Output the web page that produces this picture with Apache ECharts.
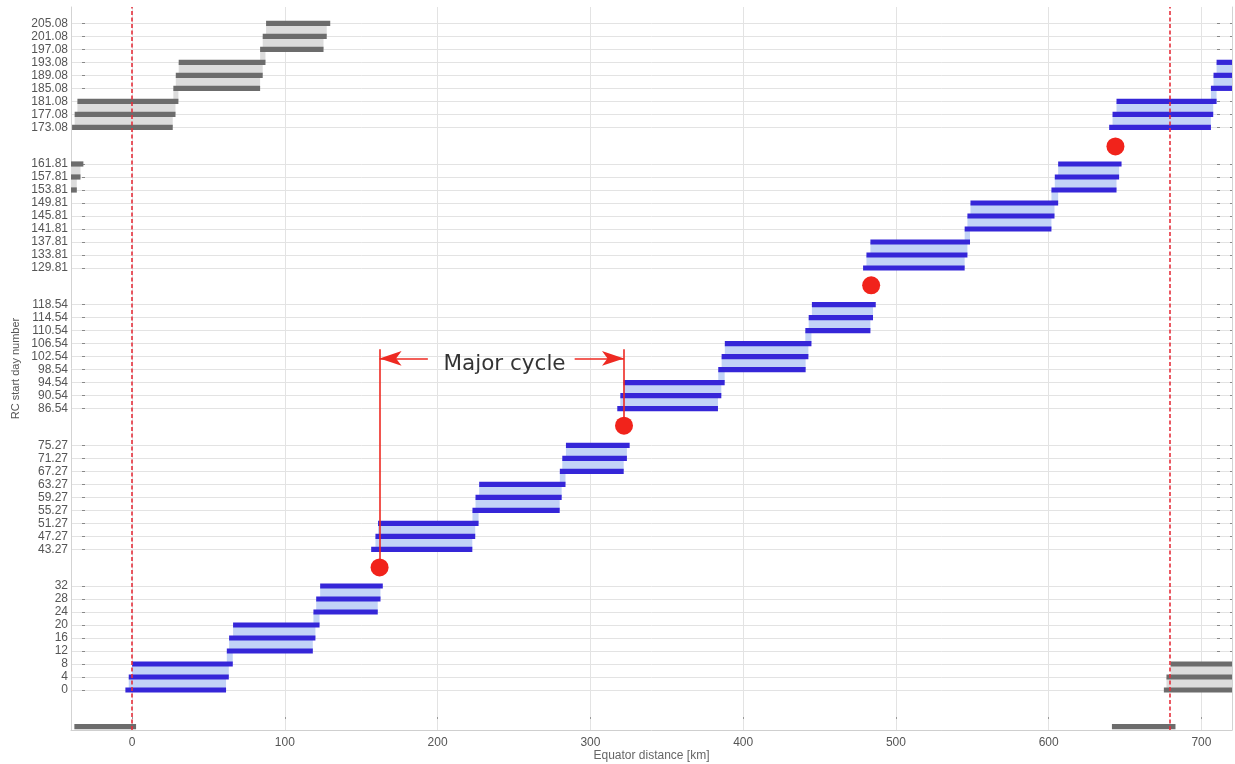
<!DOCTYPE html>
<html>
<head>
<meta charset="utf-8">
<script src="https://cdn.jsdelivr.net/npm/echarts@6/dist/echarts.min.js"></script>
<style>
html,body{margin:0;padding:0;background:#fff;}
#chart{width:1235px;height:764px;}
</style>
</head>
<body>
<div id="chart"></div>
<script>
// ---- Data ----
const dayLabels = ['0','4','8','12','16','20','24','28','32',
  '43.27','47.27','51.27','55.27','59.27','63.27','67.27','71.27','75.27',
  '86.54','90.54','94.54','98.54','102.54','106.54','110.54','114.54','118.54',
  '129.81','133.81','137.81','141.81','145.81','149.81','153.81','157.81','161.81',
  '173.08','177.08','181.08','185.08','189.08','193.08','197.08','201.08','205.08'];
const dayNumbers = dayLabels.map(Number);

// blue bars (one per day row, rows 0 .. 193.08)
const blueDays  = [0,4,8,12,16,20,24,28,32,
  43.27,47.27,51.27,55.27,59.27,63.27,67.27,71.27,75.27,
  86.54,90.54,94.54,98.54,102.54,106.54,110.54,114.54,118.54,
  129.81,133.81,137.81,141.81,145.81,149.81,153.81,157.81,161.81,
  173.08,177.08,181.08,185.08,189.08,193.08];
const blueStart = [-4.4,-2.2,0, 62,63.5,66.1, 118.7,120.5,123.1,
  156.5,159.3,161, 222.8,224.8,227.2, 280,281.6,284,
  317.6,319.6,321.7, 383.7,385.9,388, 440.7,442.9,445,
  478.5,480.7,483.3, 545,546.8,548.8, 601.8,604,606.2,
  639.6,641.8,644.4, 706.2,707.9,709.9];
const blueEnd   = [61.5,63.3,65.9, 118.3,120,122.7, 160.8,162.6,164.1,
  222.7,224.6,226.8, 279.9,281.2,283.7, 321.8,323.9,325.7,
  383.5,385.7,387.9, 440.9,442.7,444.7, 483.3,485,486.8,
  545,546.8,548.5, 601.8,603.8,606.2, 644.4,646.1,647.7,
  706.2,707.7,709.9, 764,766,768];

// gray (wrapped) bars
const grayDays  = [-11.27, -11.27, 0,4,8, 153.81,157.81,161.81,
  173.08,177.08,181.08,185.08,189.08,193.08,197.08,201.08,205.08];
const grayStart = [-37.8, 641.4, 675.4,677.1,679.8, -78.5,-76.5,-74,
  -39.3,-37.6,-35.8, 27,28.6,30.5, 83.8,85.5,87.7];
const grayEnd   = [2.6, 683, 742,743.5,746, -36.2,-33.8,-31.9,
  26.6,28.4,30.3, 83.8,85.5,87.3, 125.3,127.4,129.7];

// major-cycle markers
const dotX = [162, 322, 483.8, 643.7];
const dotY = [37.7, 81.3, 124.5, 167.2];

// reference lines (equator distance, km)
const refLinesX = [0, 679];
const xTicks = [0,100,200,300,400,500,600,700];

// annotation
const cycleLeftX = 162, cycleRightX = 322, cycleArrowY = 102, cycleTopY = 104.8;
const cycleArrowTailLeft = 193.6, cycleArrowTailRight = 289.7;
const cycleText = 'Major cycle', cycleTextX = 243.8, cycleTextY = 100.1;

// ---- Derived series data ----
function barData(days, s, e){ return days.map((d,i)=>[s[i], e[i], d]); }
function fillData(days, s, e){
  const out = [];
  for (let i = 0; i < days.length - 1; i++){
    if (Math.abs(days[i+1] - days[i] - 4) < 0.01){
      const l = Math.max(s[i], s[i+1]), r = Math.min(e[i], e[i+1]);
      if (r > l) out.push([l, r, days[i], days[i+1]]);
    }
  }
  return out;
}
const blueBars = barData(blueDays, blueStart, blueEnd);
const grayBars = barData(grayDays, grayStart, grayEnd);
const blueFills = fillData(blueDays, blueStart, blueEnd);
const grayFills = fillData(grayDays, grayStart, grayEnd);

function barRenderer(color){
  return function(params, api){
    const p0 = api.coord([api.value(0), api.value(2)]);
    const p1 = api.coord([api.value(1), api.value(2)]);
    const shape = echarts.graphic.clipRectByRect(
      {x:p0[0], y:p0[1]-2.6, width:p1[0]-p0[0], height:5.2},
      {x:params.coordSys.x, y:params.coordSys.y, width:params.coordSys.width, height:params.coordSys.height});
    if (!shape) return;
    return {type:'rect', shape:shape, style:{fill:color}};
  };
}
function fillRenderer(color){
  return function(params, api){
    const p0 = api.coord([api.value(0), api.value(3)]);
    const p1 = api.coord([api.value(1), api.value(2)]);
    const shape = echarts.graphic.clipRectByRect(
      {x:p0[0], y:p0[1], width:p1[0]-p0[0], height:p1[1]-p0[1]},
      {x:params.coordSys.x, y:params.coordSys.y, width:params.coordSys.width, height:params.coordSys.height});
    if (!shape) return;
    return {type:'rect', shape:shape, style:{fill:color}};
  };
}

const chart = echarts.init(document.getElementById('chart'), null, {renderer:'canvas'});
const labelFont = 'Liberation Sans, Arial, Helvetica, sans-serif';
const gridColor = '#e3e3e3';

const option = {
  animation:false,
  backgroundColor:'#fff',
  grid:{left:71, right:3, top:7, bottom:34, containLabel:false, outerBoundsMode:'none'},
  xAxis:{
    type:'value', min:-40, max:720,
    name:'Equator distance [km]', nameLocation:'middle', nameGap:20, nameMoveOverlap:false,
    nameTextStyle:{color:'#666', fontSize:12, fontFamily:labelFont},
    axisLine:{show:true, onZero:false, lineStyle:{color:'#cfcfcf', width:1}},
    axisTick:{show:true, inside:true, length:14, customValues:xTicks,
      lineStyle:{color:'#999', width:1, type:[0,11,2,60]}},
    axisLabel:{customValues:xTicks, color:'#555', fontSize:12, fontFamily:labelFont, margin:7},
    splitLine:{show:true, lineStyle:{color:gridColor, width:1}}
  },
  yAxis:[{
    type:'value', min:-12.3, max:210.1,
    name:'RC start day number', nameLocation:'middle', nameGap:50, nameRotate:90, nameMoveOverlap:false,
    nameTextStyle:{color:'#555', fontSize:11, fontFamily:labelFont},
    axisLine:{show:true, onZero:false, lineStyle:{color:'#d3d3d3', width:1}},
    axisTick:{show:true, inside:true, length:14, customValues:dayNumbers,
      lineStyle:{color:'#888', width:1, type:[0,11,3,60]}},
    axisLabel:{customValues:dayNumbers, color:'#555', fontSize:12, fontFamily:labelFont, margin:3,
      formatter:function(v){ const i = dayNumbers.indexOf(v); return i>=0 ? dayLabels[i] : ''; }},
    splitLine:{show:true, lineStyle:{color:gridColor, width:1}}
  },{
    type:'value', min:-12.3, max:210.1, position:'right',
    axisLine:{show:true, onZero:false, lineStyle:{color:'#d3d3d3', width:1}},
    axisTick:{show:true, inside:true, length:15, customValues:dayNumbers,
      lineStyle:{color:'#888', width:1, type:[2,10,3,60]}},
    axisLabel:{show:false, customValues:dayNumbers},
    splitLine:{show:false}
  }],
  series:[
    {type:'custom', name:'grayFill', renderItem:fillRenderer('#dcdcdc'), data:grayFills,
      encode:{x:[0,1], y:[2,3]}, z:1, silent:true},
    {type:'custom', name:'blueFill', renderItem:fillRenderer('#c2d3f7'), data:blueFills,
      encode:{x:[0,1], y:[2,3]}, z:1, silent:true},
    {type:'custom', name:'grayBars', renderItem:barRenderer('#6c6c6c'), data:grayBars,
      encode:{x:[0,1], y:2}, z:2, silent:true},
    {type:'custom', name:'blueBars', renderItem:barRenderer('#3526d8'), data:blueBars,
      encode:{x:[0,1], y:2}, z:2, silent:true},
    {type:'scatter', name:'refLines', data:[], z:3, silent:true,
      markLine:{silent:true, symbol:['none','none'], label:{show:false},
        lineStyle:{color:'#e5303c', width:1.6, type:[4,2.5]},
        data:refLinesX.map(x=>({xAxis:x}))}},
    {type:'scatter', name:'cycleDots', data:dotX.map((x,i)=>[x,dotY[i]]),
      symbol:'circle', symbolSize:18, itemStyle:{color:'#f1231b', opacity:1}, z:5, silent:true},
    {type:'scatter', name:'annotation', data:[[cycleTextX, cycleTextY]], symbolSize:0, z:6, silent:true,
      label:{show:true, position:'inside', formatter:cycleText, color:'#000', fontSize:21.5,
        fontFamily:'DejaVu Sans, Verdana, sans-serif'},
      markLine:{silent:true, label:{show:false}, animation:false,
        lineStyle:{color:'#ee2a22', width:1.6, type:'solid'},
        data:[
          [{coord:[cycleLeftX, dotY[0]], symbol:'none'}, {coord:[cycleLeftX, cycleTopY], symbol:'none'}],
          [{coord:[cycleRightX, dotY[1]], symbol:'none'}, {coord:[cycleRightX, cycleTopY], symbol:'none'}],
          [{coord:[cycleArrowTailLeft, cycleArrowY], symbol:'none'}, {coord:[cycleLeftX, cycleArrowY], symbol:'arrow', symbolSize:[11,22]}],
          [{coord:[cycleArrowTailRight, cycleArrowY], symbol:'none'}, {coord:[cycleRightX, cycleArrowY], symbol:'arrow', symbolSize:[11,22]}]
        ]}}
  ]
};
chart.setOption(option);
</script>
</body>
</html>
